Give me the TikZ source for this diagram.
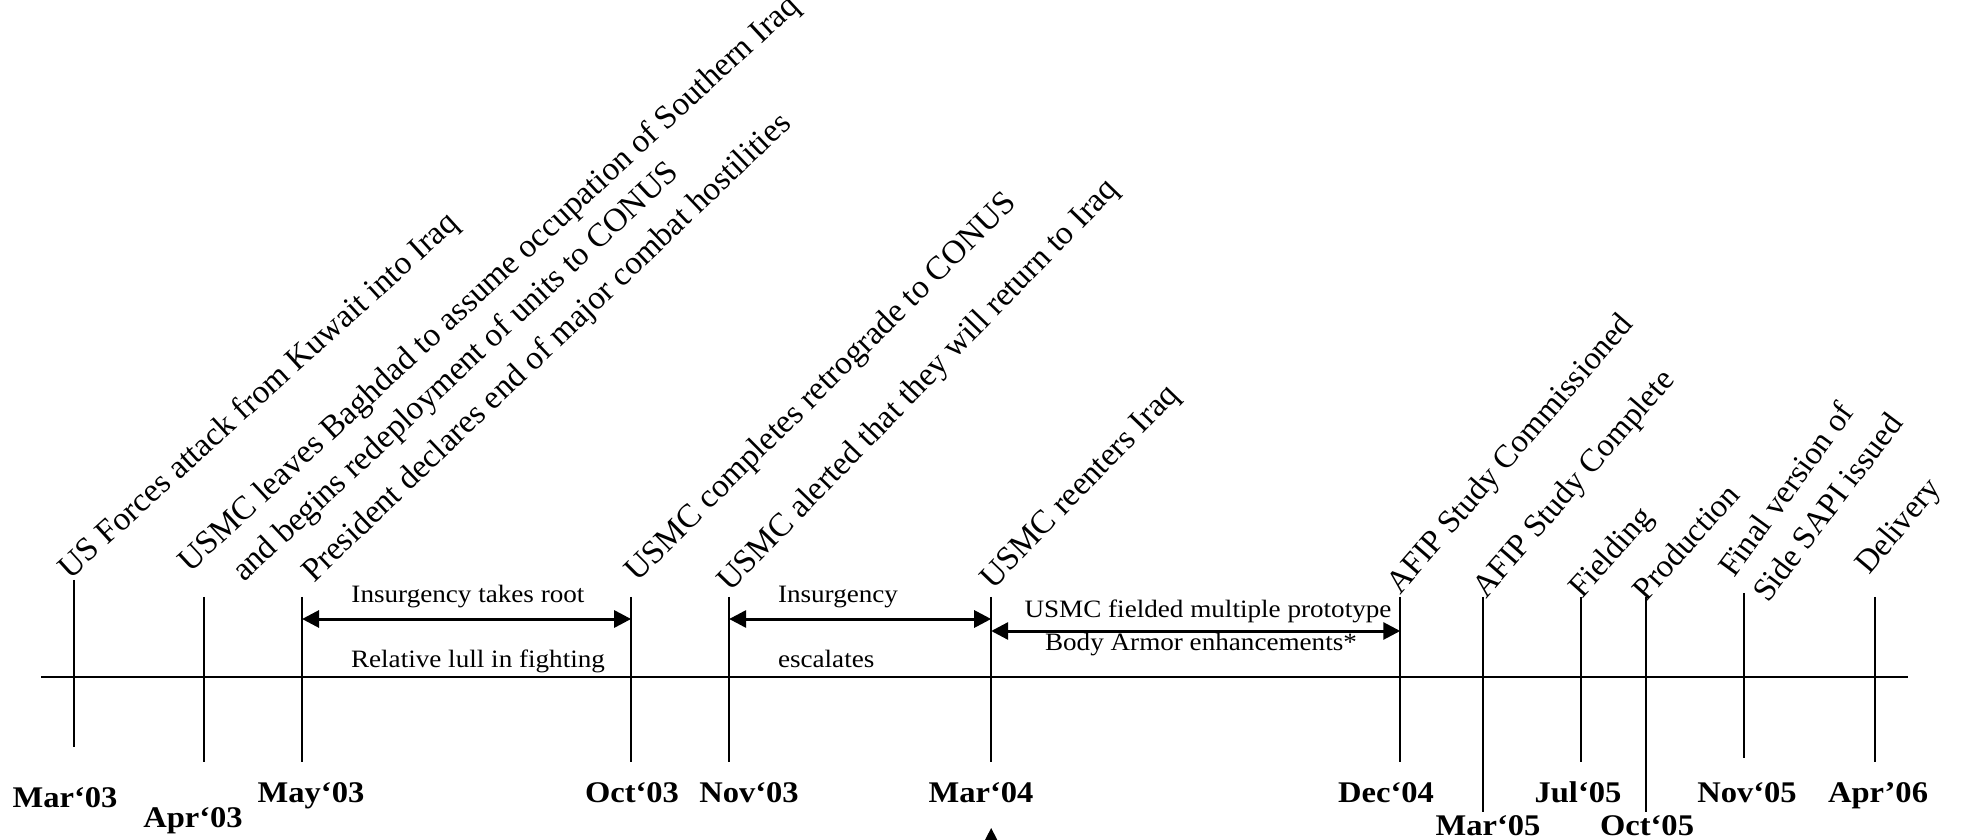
\documentclass[tikz,border=0pt]{standalone}
\usepackage{fontspec}
\setmainfont{Liberation Serif}
\usetikzlibrary{arrows.meta}
\begin{document}
\begin{tikzpicture}[x=0.921659pt, y=-1pt, xscale=1.085,
  every node/.style={inner sep=0pt, outer sep=0pt},
  evt/.style={anchor=base west, font=\fontsize{33.2}{38}\selectfont},
  evtr/.style={anchor=base west, font=\fontsize{32.5}{37}\selectfont},
  datelbl/.style={transform shape, anchor=base, font=\bfseries\fontsize{30}{34}\selectfont},
  spanlbl/.style={transform shape, font=\fontsize{25}{29}\selectfont},
  tickline/.style={line width=2pt},
  axisline/.style={line width=2.5pt},
  spanarrow/.style={line width=3pt, {Triangle[length=17pt,width=17pt]}-{Triangle[length=17pt,width=17pt]}}
]
\useasboundingbox (0,0) rectangle (1967,840);

% axis
\coordinate (axL) at (41,677);
\coordinate (axR) at (1908,677);
\draw[axisline] (axL) -- (axR);

% ticks
\foreach \n/\x/\t/\b in {mar03/74/580/747, apr03/204/597/762, may03/302/597/762,
  oct03/631/597/762, nov03/729/597/762, mar04/991/597/762, dec04/1400/597/762,
  mar05/1483/597/812, jul05/1581/597/762, oct05/1646/597/812, nov05/1744/593/758,
  apr06/1875/597/762}{
  \coordinate (\n-top) at (\x,\t);
  \coordinate (\n-bot) at (\x,\b);
  \draw[tickline] (\n-top) -- (\n-bot);
}

% date labels
\node[datelbl] (d1) at (65,807) {Mar‘03};
\node[datelbl] (d2) at (193,827) {Apr‘03};
\node[datelbl] (d3) at (311,802) {May‘03};
\node[datelbl] (d4) at (632,802) {Oct‘03};
\node[datelbl] (d5) at (749,802) {Nov‘03};
\node[datelbl] (d6) at (981,802) {Mar‘04};
\node[datelbl] (d7) at (1386,802) {Dec‘04};
\node[datelbl] (d8) at (1488,835) {Mar‘05};
\node[datelbl] (d9) at (1578,802) {Jul‘05};
\node[datelbl] (d10) at (1647,835) {Oct‘05};
\node[datelbl] (d11) at (1747,802) {Nov‘05};
\node[datelbl] (d12) at (1878,802) {Apr’06};

% event labels
\node[evt, rotate=42.3] (e1) at (70,580) {US Forces attack from Kuwait into Iraq};
\node[evt, rotate=42.8] (e2a) at (190,573) {USMC leaves Baghdad to assume occupation of Southern Iraq};
\node[evt, rotate=43.1] (e2b) at (244,583) {and begins redeployment of units to CONUS};
\node[evt, rotate=43.7] (e3) at (314,583) {President declares end of major combat hostilities};
\node[evt, rotate=44.8] (e4) at (637,583) {USMC completes retrograde to CONUS};
\node[evt, rotate=45.9] (e5) at (730,593) {USMC alerted that they will return to Iraq};
\node[evt, rotate=46] (e6) at (993,590) {USMC reenters Iraq};
\node[evtr, rotate=49] (e7) at (1400,595) {AFIP Study Commissioned};
\node[evtr, rotate=49] (e8) at (1486,599) {AFIP Study Complete};
\node[evtr, rotate=48] (e9) at (1582,599) {Fielding};
\node[evtr, rotate=48] (e10) at (1646,602) {Production};
\node[evtr, rotate=54] (e11a) at (1734,579) {Final version of};
\node[evtr, rotate=53] (e11b) at (1768,604) {Side SAPI issued};
\node[evtr, rotate=50] (e12) at (1869,576) {Delivery};

% spans
\coordinate (s1L) at (302,619);
\coordinate (s1R) at (631,619);
\draw[spanarrow] (s1L) -- (s1R);
\coordinate (s2L) at (729,619);
\coordinate (s2R) at (991,619);
\draw[spanarrow] (s2L) -- (s2R);
\coordinate (s3L) at (991,631);
\coordinate (s3R) at (1400,631);
\draw[spanarrow] (s3L) -- (s3R);

\node[spanlbl, anchor=base] (p1) at (468,602) {Insurgency takes root};
\node[spanlbl, anchor=base] (p2) at (478,667) {Relative lull in fighting};
\node[spanlbl, anchor=base west] (p3) at (778,602) {Insurgency};
\node[spanlbl, anchor=base west] (p4) at (778,667) {escalates};
\node[spanlbl, anchor=base] (p5) at (1208,618) {USMC fielded multiple prototype};
\node[spanlbl, anchor=base] (p6) at (1201,650) {Body Armor enhancements*};

% arrow at the bottom
\coordinate (upfoot) at (991,900);
\coordinate (uptip) at (991,828);
\draw[line width=2pt, -{Triangle[length=17pt,width=17pt]}] (upfoot) -- (uptip);
\end{tikzpicture}
\end{document}
